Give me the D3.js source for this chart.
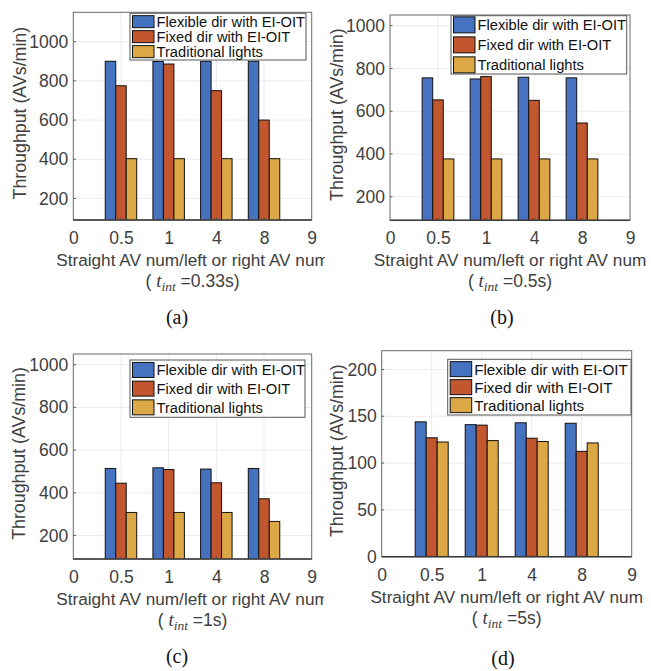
<!DOCTYPE html>
<html>
<head>
<meta charset="utf-8">
<script src="https://cdn.jsdelivr.net/npm/d3@7"></script>
<style>
  html, body { margin: 0; padding: 0; background: #fff; }
  svg { display: block; }
</style>
</head>
<body>
<script>
// ---------------- DATA ----------------
const categories = ["0.5", "1", "4", "8"];
const xTickLabels = ["0", "0.5", "1", "4", "8", "9"];
const seriesNames = ["Flexible dir with EI-OIT", "Fixed dir with EI-OIT", "Traditional lights"];
const panelLabels = ["(a)", "(b)", "(c)", "(d)"];
const tintValues = ["0.33s", "0.5s", "1s", "5s"];

const flexible_a = [900, 899, 900, 900];
const fixed_a = [775, 886, 750, 600];
const traditional_a = [403, 403, 403, 403];

const flexible_b = [756, 751, 759, 756];
const fixed_b = [653, 762, 651, 545];
const traditional_b = [377, 377, 377, 377];

const flexible_c = [514, 517, 511, 514];
const fixed_c = [445, 509, 447, 372];
const traditional_c = [308, 308, 308, 266];

const flexible_d = [144, 141, 143, 142.5];
const fixed_d = [127, 140.5, 126.5, 112.5];
const traditional_d = [122.5, 124, 123, 121.5];

const yTicks_abc = [200, 400, 600, 800, 1000];
const yTicks_d = [0, 50, 100, 150, 200];

const seriesColors = ["#4673C0", "#C2562F", "#DBA845"];

// ---------------- LAYOUT ----------------
const panels = [
  { series: [flexible_a, fixed_a, traditional_a], yDomain: [90, 1150], yTicks: yTicks_abc,
    left: 73.3, right: 311.7, top: 12.3, bottom: 220,
    clip: [0, 0, 325, 335], capX: 177, capY: 324, ylabX: 20,
    legend: { x: 130, y: 13.3, w: 176, h: 46.7, pitch: 15, swH: 12, fs: 14.7 } },
  { series: [flexible_b, fixed_b, traditional_b], yDomain: [90, 1050], yTicks: yTicks_abc,
    left: 390, right: 630, top: 15, bottom: 220.3,
    clip: [325, 0, 326, 335], capX: 502, capY: 324, ylabX: 336.7,
    legend: { x: 451, y: 15.7, w: 175.7, h: 58.3, pitch: 20, swH: 16, fs: 14.7 } },
  { series: [flexible_c, fixed_c, traditional_c], yDomain: [90, 1050], yTicks: yTicks_abc,
    left: 73.3, right: 311.7, top: 354, bottom: 559,
    clip: [0, 335, 324, 336], capX: 177, capY: 663, ylabX: 18.3,
    legend: { x: 130, y: 360, w: 175, h: 57.3, pitch: 18.7, swH: 15, fs: 14.7 } },
  { series: [flexible_d, fixed_d, traditional_d], yDomain: [0, 220], yTicks: yTicks_d,
    left: 381.7, right: 631.7, top: 350.7, bottom: 556.7,
    clip: [325, 335, 326, 336], capX: 503, capY: 665, ylabX: 336.7,
    legend: { x: 447.7, y: 359.3, w: 183.3, h: 55.7, pitch: 18, swH: 15, fs: 15.2 } }
];

const SANS = "'Liberation Sans', Arial, Helvetica, sans-serif";
const SERIF = "'Liberation Serif', 'Times New Roman', Times, serif";

const svg = d3.select("body").append("svg").attr("width", 651).attr("height", 671)
  .attr("font-family", SANS);
const defs = svg.append("defs");
const barW = 0.22;
const textGray = "#404040";

panels.forEach((p, pi) => {
  const clipId = "clip" + pi;
  defs.append("clipPath").attr("id", clipId).append("rect")
    .attr("x", p.clip[0]).attr("y", p.clip[1]).attr("width", p.clip[2]).attr("height", p.clip[3]);
  const axClipId = "axclip" + pi;
  defs.append("clipPath").attr("id", axClipId).append("rect")
    .attr("x", p.left).attr("y", p.top).attr("width", p.right - p.left).attr("height", p.bottom - p.top);

  const g = svg.append("g").attr("clip-path", `url(#${clipId})`);

  const x = d3.scaleLinear().domain([0, categories.length + 1]).range([p.left, p.right]);
  const y = d3.scaleLinear().domain(p.yDomain).range([p.bottom, p.top]);

  g.append("rect").attr("x", p.left).attr("y", p.top)
    .attr("width", p.right - p.left).attr("height", p.bottom - p.top).attr("fill", "#fff");

  // grid
  const xTickPos = d3.range(0, categories.length + 2);
  g.append("g").selectAll("line").data(xTickPos.slice(1, -1)).join("line")
    .attr("x1", d => x(d)).attr("x2", d => x(d)).attr("y1", p.top).attr("y2", p.bottom)
    .attr("stroke", "#ebebeb").attr("stroke-width", 1);
  g.append("g").selectAll("line").data(p.yTicks.filter(t => t > p.yDomain[0])).join("line")
    .attr("x1", p.left).attr("x2", p.right).attr("y1", d => y(d)).attr("y2", d => y(d))
    .attr("stroke", "#ebebeb").attr("stroke-width", 1);

  // bars
  const barsG = g.append("g").attr("clip-path", `url(#${axClipId})`);
  p.series.forEach((vals, si) => {
    barsG.selectAll(null).data(vals).join("rect")
      .attr("x", (d, i) => x(i + 1 + (si - 1.5) * barW))
      .attr("width", x(barW) - x(0))
      .attr("y", d => y(d))
      .attr("height", d => y(p.yDomain[0]) - y(d) + 2)
      .attr("fill", seriesColors[si])
      .attr("stroke", "#111").attr("stroke-width", 1);
  });

  // axes
  const xAxis = d3.axisBottom(x).tickValues(xTickPos)
    .tickFormat((d, i) => xTickLabels[i]).tickSize(0).tickPadding(11.5);
  const xg = g.append("g").attr("transform", `translate(0,${p.bottom})`).call(xAxis);
  xg.select(".domain").remove();
  xg.selectAll("text").attr("font-size", 17.5).attr("fill", textGray).attr("font-family", SANS);

  const yAxis = d3.axisLeft(y).tickValues(p.yTicks).tickFormat(d3.format("d")).tickSize(0).tickPadding(5);
  const yg = g.append("g").attr("transform", `translate(${p.left},0)`).call(yAxis);
  yg.select(".domain").remove();
  yg.selectAll("text").attr("font-size", 17.5).attr("fill", textGray).attr("font-family", SANS);

  g.append("g").selectAll("line").data(p.yTicks.filter(t => t > p.yDomain[0])).join("line")
    .attr("x1", p.left).attr("x2", p.left + 2.5).attr("y1", d => y(d)).attr("y2", d => y(d))
    .attr("stroke", "#555");
  g.append("g").selectAll("line").data(xTickPos.slice(1, -1)).join("line")
    .attr("x1", d => x(d)).attr("x2", d => x(d)).attr("y1", p.bottom).attr("y2", p.bottom - 2.5)
    .attr("stroke", "#555");

  // box
  g.append("rect").attr("x", p.left).attr("y", p.top)
    .attr("width", p.right - p.left).attr("height", p.bottom - p.top)
    .attr("fill", "none").attr("stroke", "#6a6a6a").attr("stroke-width", 1);
  g.append("line").attr("x1", p.left).attr("x2", p.right).attr("y1", p.bottom).attr("y2", p.bottom)
    .attr("stroke", "#3a3a3a").attr("stroke-width", 1.5);

  // x label
  const cx = (p.left + p.right) / 2;
  g.append("text").attr("x", cx).attr("y", p.bottom + 46).attr("text-anchor", "middle")
    .attr("font-size", 17.2).attr("fill", textGray)
    .text("Straight AV num/left or right AV num");

  const t2 = g.append("text").attr("x", cx).attr("y", p.bottom + 67).attr("text-anchor", "middle")
    .attr("font-size", 17.5).attr("fill", textGray);
  t2.append("tspan").text("( ");
  t2.append("tspan").attr("font-family", SERIF)
    .attr("font-style", "italic").attr("font-size", 19).text("t");
  t2.append("tspan").attr("font-family", SERIF)
    .attr("font-style", "italic").attr("font-size", 13.5).attr("dy", 4).text("int");
  t2.append("tspan").attr("dy", -4).text(" =" + tintValues[pi] + ")");

  // y label
  const cy = (p.top + p.bottom) / 2 - 3;
  g.append("text").attr("transform", `translate(${p.ylabX},${cy}) rotate(-90)`)
    .attr("text-anchor", "middle").attr("dy", "0.36em")
    .attr("font-size", 17.8).attr("fill", textGray)
    .text("Throughput (AVs/min)");

  // legend
  const L = p.legend;
  const lg = g.append("g");
  lg.append("rect").attr("x", L.x).attr("y", L.y).attr("width", L.w).attr("height", L.h)
    .attr("fill", "#fff").attr("stroke", "#555").attr("stroke-width", 1);
  seriesNames.forEach((name, si) => {
    const rowC = L.y + L.h / 2 + (si - 1) * L.pitch;
    lg.append("rect").attr("x", L.x + 2.5).attr("y", rowC - L.swH / 2)
      .attr("width", 21.5).attr("height", L.swH)
      .attr("fill", seriesColors[si]).attr("stroke", "#111").attr("stroke-width", 1);
    lg.append("text").attr("x", L.x + 26.5).attr("y", rowC).attr("dy", "0.36em")
      .attr("font-size", L.fs).attr("fill", "#111").text(name);
  });

  // caption
  svg.append("text").attr("x", p.capX).attr("y", p.capY).attr("text-anchor", "middle")
    .attr("font-family", SERIF)
    .attr("font-size", 20).attr("fill", "#111").text(panelLabels[pi]);
});
</script>
</body>
</html>
